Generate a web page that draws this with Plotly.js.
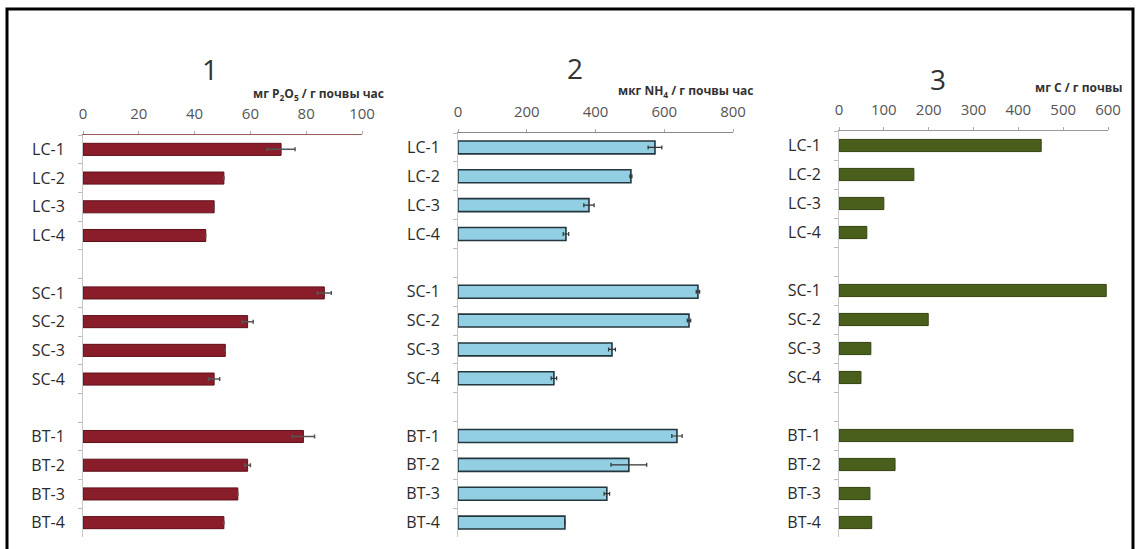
<!DOCTYPE html>
<html>
<head>
<meta charset="utf-8">
<script src="https://cdn.plot.ly/plotly-3.0.1.min.js"></script>
<style>html,body{margin:0;padding:0;background:#fff;}#chart{width:1140px;height:549px;}</style>
</head>
<body>
<div id="chart"></div>
<script>
// ---- data ----
var categories = ["LC-1","LC-2","LC-3","LC-4"," ","SC-1","SC-2","SC-3","SC-4","  ","BT-1","BT-2","BT-3","BT-4"];
var p2o5     = [71, 50.5, 47, 44, null, 86.5, 59, 51, 47, null, 79, 59, 55.5, 50.5];
var p2o5Err  = [5, 0, 0, 0, null, 2.5, 2, 0, 2, null, 4, 1, 0, 0];
var nh4      = [573, 503, 381, 314, null, 698, 672, 448, 279, null, 637, 497, 433, 311];
var nh4Err   = [20, 3, 15, 8, null, 5, 5, 10, 8, null, 15, 52, 8, 0];
var carbon   = [451, 167, 100, 62, null, 596, 199, 71, 49, null, 522, 125, 69, 73];
var panelTitles = ["1","2","3"];
var xTitles = ["мг P<sub>2</sub>O<sub>5</sub> / г почвы час", "мкг NH<sub>4</sub> / г почвы час", "мг C / г почвы"];

var W = 1140, H = 549;
function px(x){ return x / W; }
function py(y){ return 1 - y / H; }

var font = "Open Sans, Noto Sans, sans-serif";

var traces = [
  {type:"bar", orientation:"h", y:categories, x:p2o5, xaxis:"x", yaxis:"y",
   width:0.42,
   marker:{color:"#8a1d2a", line:{color:"#5e1019", width:1}},
   error_x:{type:"data", array:p2o5Err, visible:true, color:"#555", thickness:1.5, width:2}},
  {type:"bar", orientation:"h", y:categories, x:nh4, xaxis:"x2", yaxis:"y2",
   width:0.45,
   marker:{color:"#93cfe3", line:{color:"#24363e", width:1.6}},
   error_x:{type:"data", array:nh4Err, visible:true, color:"#333", thickness:1.2, width:2}},
  {type:"bar", orientation:"h", y:categories, x:carbon, xaxis:"x3", yaxis:"y3",
   width:0.42,
   marker:{color:"#4b5f1c", line:{color:"#33420f", width:1}}}
];

function xa(domain, range, dtick, anchor, lineColor){
  return {domain:domain, range:range, dtick:dtick, side:"top", anchor:anchor,
    showgrid:false, zeroline:false, showline:true, linecolor:lineColor, linewidth:1,
    ticks:"outside", ticklen:3, tickcolor:"#aaa", ticklabelstandoff:6,
    tickfont:{family:font, size:15, color:"#555"}, fixedrange:true};
}
function ya(domain, anchor){
  return {domain:domain, type:"category", categoryorder:"array", categoryarray:categories,
    autorange:"reversed", anchor:anchor, showgrid:false, zeroline:false,
    showline:true, linecolor:"#c8c8c8", linewidth:1,
    ticks:"outside", ticklen:4, tickcolor:"#bbb", tickson:"boundaries",
    ticklabelstandoff:14,
    tickfont:{family:font, size:16, color:"#2a2a2a"}, fixedrange:true};
}

var layout = {
  width:W, height:H, margin:{l:0,r:0,t:0,b:0},
  paper_bgcolor:"#fff", plot_bgcolor:"rgba(0,0,0,0)",
  showlegend:false, bargap:0.55,
  xaxis:  xa([px(83), px(362)], [0,100], 20, "y", "#9a5a5a"),
  yaxis:  ya([py(537), py(135)], "x"),
  xaxis2: xa([px(458), px(733)], [0,800], 200, "y2", "#888"),
  yaxis2: ya([py(537), py(133)], "x2"),
  xaxis3: xa([px(839), px(1108)], [0,600], 100, "y3", "#999"),
  yaxis3: ya([py(537), py(131)], "x3"),
  annotations: [
    {text:panelTitles[0], x:px(200), y:py(48), xref:"paper", yref:"paper", showarrow:false, font:{family:font, size:28, color:"#333"}},
    {text:panelTitles[1], x:px(575), y:py(47), xref:"paper", yref:"paper", showarrow:false, font:{family:font, size:28, color:"#333"}},
    {text:panelTitles[2], x:px(948), y:py(58), xref:"paper", yref:"paper", showarrow:false, font:{family:font, size:28, color:"#333"}},
    {text:"<b>"+xTitles[0]+"</b>", x:px(386), y:py(83), xref:"paper", yref:"paper", xanchor:"right", showarrow:false, font:{family:font, size:12, color:"#333"}},
    {text:"<b>"+xTitles[1]+"</b>", x:px(755), y:py(80), xref:"paper", yref:"paper", xanchor:"right", showarrow:false, font:{family:font, size:12, color:"#333"}},
    {text:"<b>"+xTitles[2]+"</b>", x:px(1125), y:py(77), xref:"paper", yref:"paper", xanchor:"right", showarrow:false, font:{family:font, size:12, color:"#333"}}
  ],
  shapes: [
    {type:"rect", xref:"paper", yref:"paper", x0:px(7), x1:px(1133), y0:-0.05, y1:py(9),
     line:{color:"#000", width:3}, fillcolor:"rgba(0,0,0,0)"}
  ]
};

Plotly.newPlot("chart", traces, layout, {displayModeBar:false, staticPlot:true});
</script>
</body>
</html>
